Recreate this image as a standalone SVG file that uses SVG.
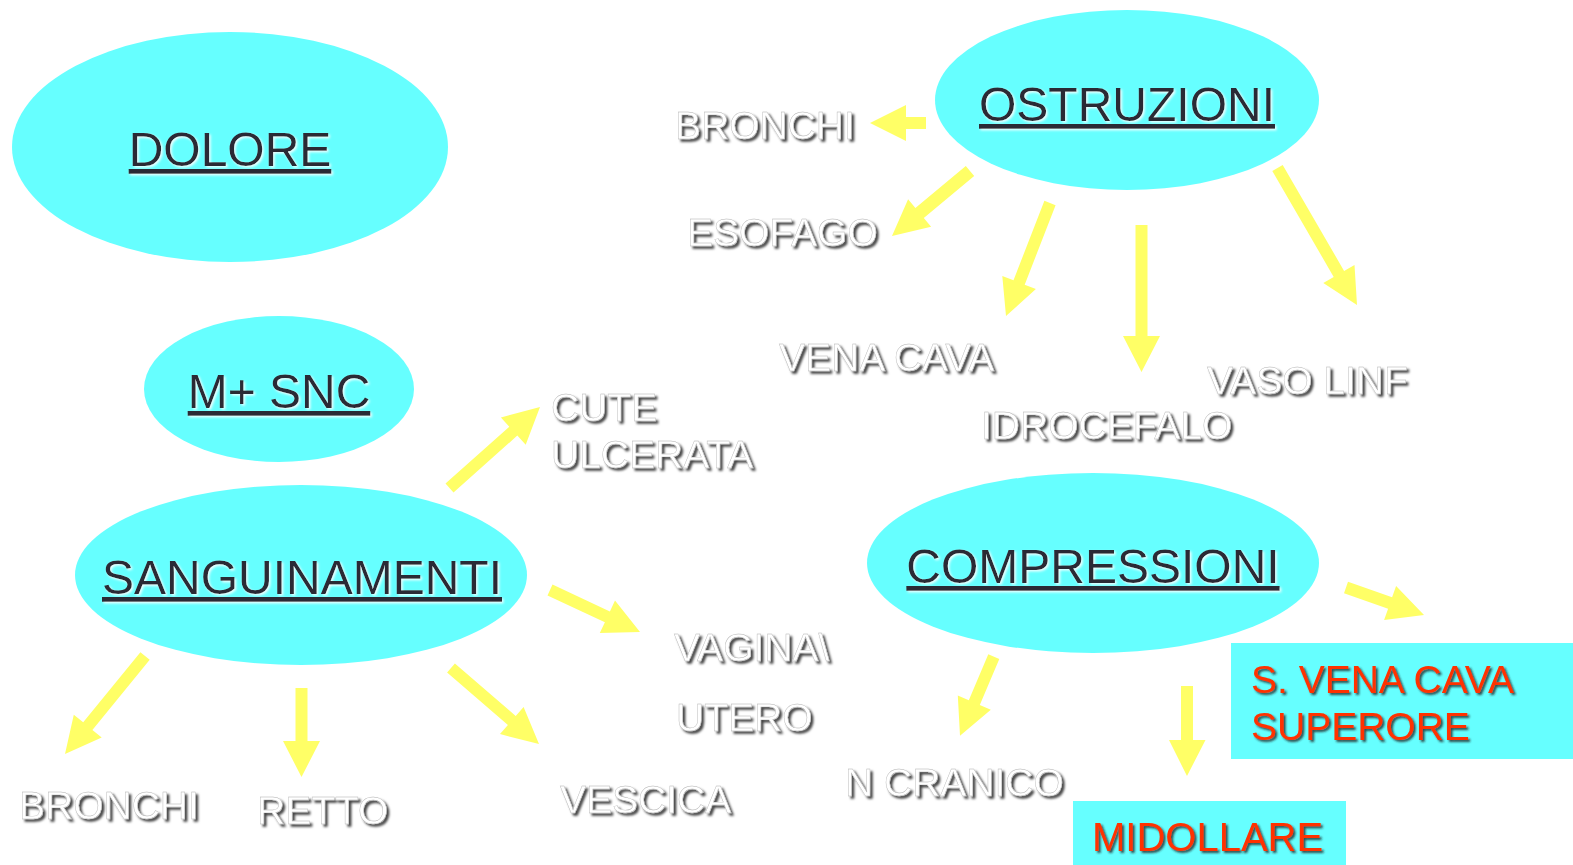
<svg xmlns="http://www.w3.org/2000/svg" width="1573" height="865" viewBox="0 0 1573 865">
<style>
.ell{fill:#66FFFF}
.box{fill:#66FFFF}
.head{font-family:"Liberation Sans",Arial,sans-serif;font-size:48px;fill:#292934;text-anchor:middle;text-decoration:underline;filter:url(#hl)}
.lbl{font-family:"Liberation Sans",Arial,sans-serif;font-size:39px;fill:#FFFFFF;stroke:#b0b0b0;stroke-width:0.4;filter:url(#sh)}
.red{font-family:"Liberation Sans",Arial,sans-serif;font-size:39px;fill:#FF3300;filter:url(#shr)}
.arr{fill:#FFFF66}
</style>
<defs>
<filter id="sh" x="-10%" y="-30%" width="130%" height="160%">
<feDropShadow dx="2.5" dy="2.5" stdDeviation="0.9" flood-color="#000" flood-opacity="0.75"/>
</filter>
<filter id="shr" x="-10%" y="-30%" width="130%" height="160%">
<feDropShadow dx="2" dy="2" stdDeviation="1" flood-color="#222" flood-opacity="0.8"/>
</filter>
<filter id="hl" x="-10%" y="-30%" width="130%" height="160%">
<feDropShadow dx="1.5" dy="1.5" stdDeviation="0.8" flood-color="#fff" flood-opacity="0.9"/>
</filter>
</defs>
<rect width="1573" height="865" fill="#FFFFFF"/>

<g id="dolore">
<ellipse class="ell" cx="230" cy="147" rx="218" ry="115"/>
<text class="head" x="230" y="166">DOLORE</text>
</g>
<g id="msnc">
<ellipse class="ell" cx="279" cy="389" rx="135" ry="73"/>
<text class="head" x="279" y="408">M+ SNC</text>
</g>
<g id="sanguinamenti">
<ellipse class="ell" cx="301" cy="575" rx="226" ry="90"/>
<text class="head" x="302" y="594">SANGUINAMENTI</text>
</g>
<g id="ostruzioni">
<ellipse class="ell" cx="1127" cy="100" rx="192" ry="90"/>
<text class="head" x="1127" y="121">OSTRUZIONI</text>
</g>
<g id="compressioni">
<ellipse class="ell" cx="1093" cy="563" rx="226" ry="90"/>
<text class="head" x="1093" y="583">COMPRESSIONI</text>
</g>

<g id="bronchi-top"><text class="lbl" x="675" y="139">BRONCHI</text></g>
<g id="esofago"><text class="lbl" x="687" y="246">ESOFAGO</text></g>
<g id="vena-cava"><text class="lbl" x="779" y="371">VENA CAVA</text></g>
<g id="idrocefalo"><text class="lbl" x="981" y="439">IDROCEFALO</text></g>
<g id="vaso-linf"><text class="lbl" x="1207" y="394">VASO LINF</text></g>
<g id="cute"><text class="lbl" x="551" y="421">CUTE</text><text class="lbl" x="551" y="468">ULCERATA</text></g>
<g id="vagina"><text class="lbl" x="674" y="661">VAGINA\</text></g>
<g id="utero"><text class="lbl" x="676" y="731">UTERO</text></g>
<g id="vescica"><text class="lbl" x="560" y="813">VESCICA</text></g>
<g id="bronchi-bottom"><text class="lbl" x="19" y="819">BRONCHI</text></g>
<g id="retto"><text class="lbl" x="257" y="824">RETTO</text></g>
<g id="n-cranico"><text class="lbl" x="845" y="796">N CRANICO</text></g>

<g id="svc">
<rect class="box" x="1231" y="643" width="342" height="116"/>
<text class="red" x="1251" y="693">S. VENA CAVA</text>
<text class="red" x="1251" y="740">SUPERORE</text>
</g>
<g id="midollare">
<rect class="box" x="1073" y="801" width="273" height="64"/>
<text class="red" x="1092" y="851" style="font-size:40px">MIDOLLARE</text>
</g>

<g id="connectors">
<polygon class="arr" points="926,117 906,117 906,105 870,123 906,141 906,129 926,129"/>
<polygon class="arr" points="965.8,166 915.4,208 908.1,199.2 892,236 931.1,226.8 923.8,218 974.2,176"/>
<polygon class="arr" points="1044.4,200.8 1013.5,280.3 1002.3,276 1006,316 1035.9,289 1024.7,284.7 1055.6,205.2"/>
<polygon class="arr" points="1135.5,225 1135.5,336 1123,336 1141.5,372 1160,336 1147.5,336 1147.5,225"/>
<polygon class="arr" points="1272.3,171 1333.7,276.9 1323.3,282.9 1357,305 1354.5,264.9 1344.1,270.9 1282.7,165"/>
<polygon class="arr" points="453.5,492.5 517.3,435.6 525.7,444.8 540,407 500.9,417.4 509.3,426.7 445.5,483.5"/>
<polygon class="arr" points="547.5,595.4 604.9,622.2 599.8,633.1 640,632 615,600.5 609.9,611.4 552.5,584.6"/>
<polygon class="arr" points="140.4,652.2 83.2,722.3 73.8,714.7 65,754 101.7,737.5 92.4,729.9 149.7,659.8"/>
<polygon class="arr" points="295.5,688 295.5,741 283,741 301.5,777 320,741 307.5,741 307.5,688"/>
<polygon class="arr" points="447.1,672.5 507.9,725 500,734.1 539,744 523.6,706.9 515.7,716 454.9,663.5"/>
<polygon class="arr" points="1344,593.2 1388.1,608.7 1384.1,620 1424,615 1396.1,586 1392.1,597.3 1348,581.8"/>
<polygon class="arr" points="988.3,654.3 968.8,700.2 957.8,695.5 960,735.7 990.8,709.7 979.8,705 999.3,659.1"/>
<polygon class="arr" points="1181,686 1181,740 1169,740 1187,776 1205.5,740 1193,740 1193,686"/>
</g>
</svg>
